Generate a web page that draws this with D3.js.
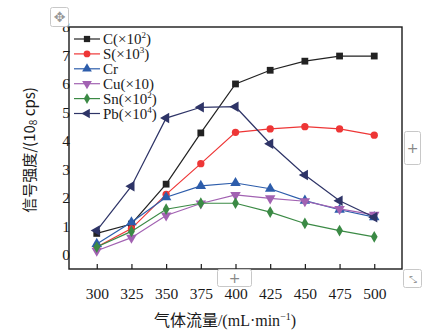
<!DOCTYPE html>
<html>
<head>
<meta charset="utf-8">
<script src="https://cdn.jsdelivr.net/npm/d3@7"></script>
<style>
  body { margin: 0; background: #fff; }
  svg text { font-family: "Liberation Serif", "Noto Sans CJK SC", serif; }
</style>
</head>
<body>
<div id="chart"></div>
<script>
// gas flow (mL/min)
const flows = [300, 325, 350, 375, 400, 425, 450, 475, 500];
const seriesNames = ['C', 'S', 'Cr', 'Cu', 'Sn', 'Pb'];
const seriesLabels = ['C(×10', 'S(×10', 'Cr', 'Cu(×10)', 'Sn(×10', 'Pb(×10'];
const seriesSup = ['2', '3', '', '', '2', '4'];
const valC = [0.75, 1.08, 2.48, 4.28, 6.0, 6.48, 6.8, 6.98, 6.98];
const valS = [0.27, 0.92, 2.12, 3.2, 4.3, 4.42, 4.5, 4.42, 4.2];
const valCr = [0.38, 1.14, 2.02, 2.42, 2.52, 2.32, 1.9, 1.58, 1.32];
const valCu = [0.14, 0.6, 1.38, 1.8, 2.1, 1.98, 1.88, 1.61, 1.4];
const valSn = [0.27, 0.82, 1.6, 1.81, 1.81, 1.5, 1.1, 0.85, 0.63];
const valPb = [0.85, 2.41, 4.8, 5.18, 5.2, 3.9, 2.8, 1.9, 1.32];
const yTicks = [0, 1, 2, 3, 4, 5, 6, 7, 8];
const colors = ['#222222', '#ee3636', '#2d5dab', '#a262b2', '#3b8a45', '#2e3467'];
const symbols = [d3.symbolSquare, d3.symbolCircle, d3.symbolTriangle, d3.symbolTriangle, d3.symbolDiamond, d3.symbolTriangle];
const rotations = [0, 0, 0, 180, 0, -90];
const sizes = [46, 42, 48, 48, 40, 48];

const allVals = [valC, valS, valCr, valCu, valSn, valPb];

const W = 434, H = 334;
const margin = { top: 27, right: 32, bottom: 65, left: 69 };
const width = W - margin.left - margin.right;
const height = H - margin.top - margin.bottom;

const svg = d3.select('#chart').append('svg')
  .attr('width', W).attr('height', H);

const g = svg.append('g')
  .attr('transform', 'translate(' + margin.left + ',' + margin.top + ')');

const x = d3.scaleLinear().domain([280, 520]).range([0, width]);
const y = d3.scaleLinear().domain([-0.5, 8]).range([height, 0]);

// frame
g.append('rect')
  .attr('width', width).attr('height', height)
  .attr('fill', 'none').attr('stroke', '#1a1a1a').attr('stroke-width', 1.4);

// x axis: inner ticks only
const xAxis = g.append('g')
  .attr('transform', 'translate(0,' + height + ')')
  .call(d3.axisBottom(x).tickValues(flows).tickSize(-5).tickPadding(19).tickFormat(d3.format('d')));
xAxis.select('.domain').remove();
xAxis.selectAll('line').attr('stroke', '#1a1a1a').attr('stroke-width', 1.2);
xAxis.selectAll('text').attr('font-size', 15.5).attr('fill', '#1a1a1a')
  .style('font-family', '"Liberation Serif", serif');

// y axis: labels only
const yAxis = g.append('g')
  .call(d3.axisLeft(y).tickValues(yTicks).tickSize(0).tickPadding(13));
yAxis.select('.domain').remove();
yAxis.selectAll('text').attr('font-size', 15.5).attr('fill', '#1a1a1a')
  .attr('text-anchor', 'middle').attr('dx', 10)
  .style('font-family', '"Liberation Serif", serif');

// series
const line = d3.line().x((d, i) => x(flows[i])).y(d => y(d));
allVals.forEach((vals, k) => {
  const s = g.append('g');
  s.append('path').datum(vals)
    .attr('d', line).attr('fill', 'none')
    .attr('stroke', colors[k]).attr('stroke-width', 1.2);
  s.selectAll('path.pt').data(vals).enter().append('path')
    .attr('class', 'pt')
    .attr('d', d3.symbol().type(symbols[k]).size(sizes[k]))
    .attr('transform', (d, i) => 'translate(' + x(flows[i]) + ',' + y(d) + ') rotate(' + rotations[k] + ')')
    .attr('fill', colors[k]);
});

// legend
const legend = g.append('g').attr('transform', 'translate(5,12)');
seriesNames.forEach((n, k) => {
  const row = legend.append('g').attr('transform', 'translate(0,' + (k * 14.9) + ')');
  row.append('line').attr('x1', 0).attr('x2', 26).attr('y1', 0).attr('y2', 0)
    .attr('stroke', colors[k]).attr('stroke-width', 1.2);
  row.append('path')
    .attr('d', d3.symbol().type(symbols[k]).size(sizes[k] * 0.85))
    .attr('transform', 'translate(13,0) rotate(' + rotations[k] + ')')
    .attr('fill', colors[k]);
  const t = row.append('text').attr('x', 29).attr('y', 5)
    .attr('font-size', 15).attr('fill', '#1a1a1a').text(seriesLabels[k]);
  if (seriesSup[k]) {
    t.append('tspan').attr('font-size', 9).attr('dy', -6).text(seriesSup[k]);
    t.append('tspan').attr('dy', 6).text(')');
  }
});

// axis titles
svg.append('text')
  .attr('x', 225).attr('y', 326)
  .attr('text-anchor', 'middle').attr('font-size', 16).attr('fill', '#1a1a1a')
  .call(t => {
    t.append('tspan').text('气体流量/(mL·min');
    t.append('tspan').attr('font-size', 10).attr('dy', -6).text('−1');
    t.append('tspan').attr('dy', 6).text(')');
  });

svg.append('text')
  .attr('transform', 'translate(35,150) rotate(-90)')
  .attr('text-anchor', 'middle').attr('font-size', 15).attr('fill', '#1a1a1a')
  .style('font-family', '"Noto Sans CJK SC", "DejaVu Sans", sans-serif')
  .call(t => {
    t.append('tspan').text('信号强度/(10');
    t.append('tspan').attr('font-size', 10).attr('dy', 2).text('8');
    t.append('tspan').attr('dy', -2).text(' cps)');
  });

// editor widgets seen in the picture
const ui = svg.append('g');
ui.append('rect').attr('x', 50.5).attr('y', 7.5).attr('width', 18).attr('height', 19).attr('rx', 2)
  .attr('fill', '#fff').attr('stroke', '#c8c8c8');
ui.append('text').attr('x', 59.5).attr('y', 22).attr('text-anchor', 'middle')
  .attr('font-size', 14).attr('fill', '#999').style('font-family', 'DejaVu Sans').text('✥');
ui.append('rect').attr('x', 404.5).attr('y', 131.5).attr('width', 16).attr('height', 33).attr('rx', 2)
  .attr('fill', '#fff').attr('stroke', '#c8c8c8');
ui.append('text').attr('x', 412.5).attr('y', 153).attr('text-anchor', 'middle')
  .attr('font-size', 14).attr('fill', '#888').style('font-family', 'DejaVu Sans').text('+');
ui.append('rect').attr('x', 217.5).attr('y', 269.5).attr('width', 34).attr('height', 17).attr('rx', 2)
  .attr('fill', '#fff').attr('stroke', '#c8c8c8');
ui.append('text').attr('x', 234.5).attr('y', 283).attr('text-anchor', 'middle')
  .attr('font-size', 14).attr('fill', '#888').style('font-family', 'DejaVu Sans').text('+');
ui.append('rect').attr('x', 403.5).attr('y', 269.5).attr('width', 18).attr('height', 18).attr('rx', 2)
  .attr('fill', '#fff').attr('stroke', '#c8c8c8');
ui.append('text').attr('x', 412.5).attr('y', 283).attr('text-anchor', 'middle')
  .attr('font-size', 10).attr('fill', '#999').style('font-family', 'DejaVu Sans').text('⤡');
</script>
</body>
</html>
